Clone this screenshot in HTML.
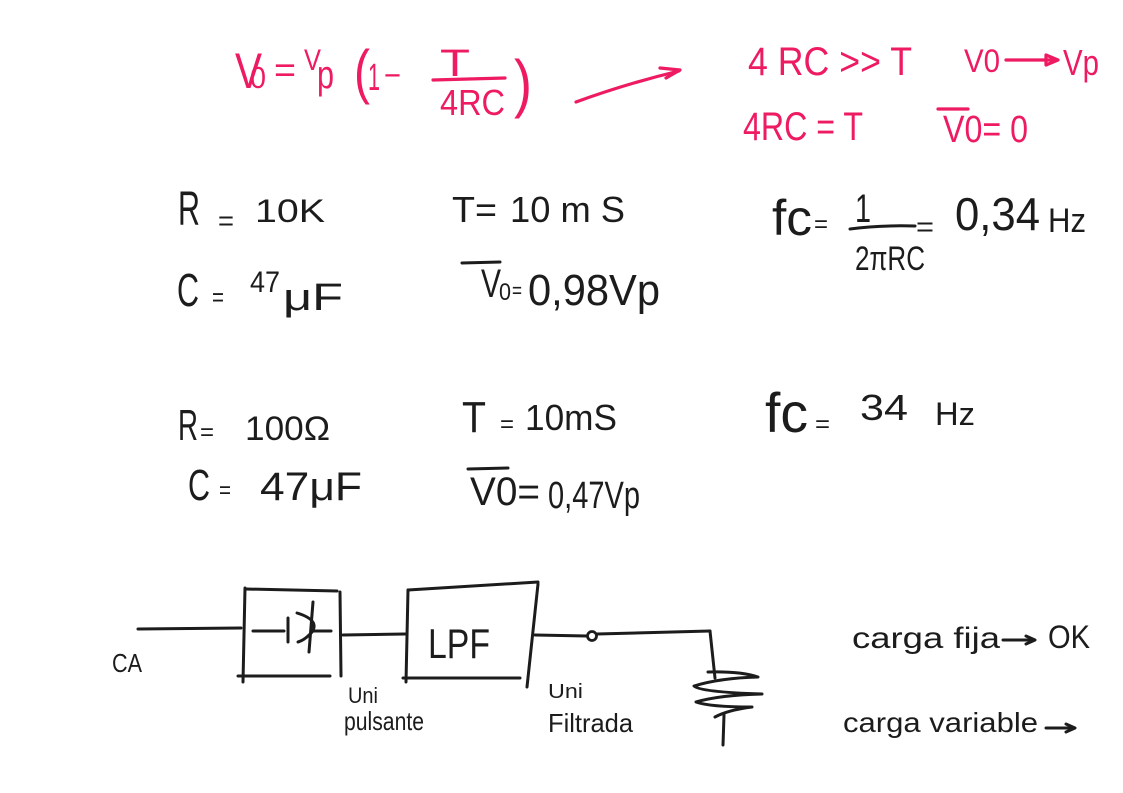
<!DOCTYPE html>
<html>
<head>
<meta charset="utf-8">
<style>
  html,body{margin:0;padding:0;background:#fff;}
  body{width:1123px;height:793px;overflow:hidden;}
  svg{display:block;}
  .p{fill:#ee1a62;font-family:"Liberation Sans",sans-serif;}
  .k{fill:#1c1c1c;font-family:"Liberation Sans",sans-serif;}
  .pl{stroke:#ee1a62;stroke-width:3.2;fill:none;stroke-linecap:round;stroke-linejoin:round;}
  .kl{stroke:#1c1c1c;stroke-width:3;fill:none;stroke-linecap:round;stroke-linejoin:round;}
</style>
</head>
<body>
<svg width="1123" height="793" viewBox="0 0 1123 793" xmlns="http://www.w3.org/2000/svg">
  <rect width="1123" height="793" fill="#fff"/>

  <!-- ===== PINK TOP FORMULA ===== -->
  <text class="p" x="235" y="88" font-size="50" textLength="27" lengthAdjust="spacingAndGlyphs">V</text>
  <text class="p" x="250" y="88" font-size="31" textLength="16" lengthAdjust="spacingAndGlyphs">0</text>
  <text class="p" x="274" y="82" font-size="36" textLength="22" lengthAdjust="spacingAndGlyphs">=</text>
  <text class="p" x="304" y="70" font-size="30" textLength="17" lengthAdjust="spacingAndGlyphs">V</text>
  <text class="p" x="317" y="88" font-size="40" textLength="17" lengthAdjust="spacingAndGlyphs">p</text>
  <text class="p" x="354" y="92" font-size="60" textLength="16" lengthAdjust="spacingAndGlyphs">(</text>
  <text class="p" x="368" y="90" font-size="38" textLength="12" lengthAdjust="spacingAndGlyphs">1</text>
  <text class="p" x="384" y="86" font-size="32" textLength="17" lengthAdjust="spacingAndGlyphs">−</text>
  <text class="p" x="440" y="76" font-size="38" textLength="30" lengthAdjust="spacingAndGlyphs">T</text>
  <path class="pl" d="M433,80 L505,78"/>
  <text class="p" x="440" y="115" font-size="36" textLength="65" lengthAdjust="spacingAndGlyphs">4RC</text>
  <text class="p" x="514" y="105" font-size="64" textLength="18" lengthAdjust="spacingAndGlyphs">)</text>
  <!-- big pink arrow -->
  <path class="pl" d="M576,102 Q625,84 679,71"/>
  <path class="pl" d="M660,68 L680,70 L666,78"/>

  <!-- right pink -->
  <text class="p" x="748" y="75" font-size="40" textLength="164" lengthAdjust="spacingAndGlyphs">4 RC &gt;&gt; T</text>
  <text class="p" x="964" y="72" font-size="32" textLength="36" lengthAdjust="spacingAndGlyphs">V0</text>
  <path class="pl" d="M1006,60 L1056,60"/>
  <path class="pl" d="M1046,55 L1058,60 L1046,65 Z" fill="#ee1a62"/>
  <text class="p" x="1063" y="75" font-size="36" textLength="36" lengthAdjust="spacingAndGlyphs">Vp</text>

  <text class="p" x="743" y="140" font-size="40" textLength="120" lengthAdjust="spacingAndGlyphs">4RC = T</text>
  <path class="pl" d="M938,109 L968,109"/>
  <text class="p" x="943" y="142" font-size="38" textLength="85" lengthAdjust="spacingAndGlyphs">V0= 0</text>

  <!-- ===== BLACK BLOCK 1 ===== -->
  <text class="k" x="178" y="225" font-size="48" textLength="22" lengthAdjust="spacingAndGlyphs">R</text>
  <text class="k" x="218" y="230" font-size="28" textLength="16" lengthAdjust="spacingAndGlyphs">=</text>
  <text class="k" x="255" y="222" font-size="32" textLength="70" lengthAdjust="spacingAndGlyphs">10K</text>

  <text class="k" x="452" y="222" font-size="36" textLength="45" lengthAdjust="spacingAndGlyphs">T=</text>
  <text class="k" x="510" y="222" font-size="36" textLength="115" lengthAdjust="spacingAndGlyphs">10 m S</text>

  <text class="k" x="177" y="306" font-size="46" textLength="22" lengthAdjust="spacingAndGlyphs">C</text>
  <text class="k" x="212" y="306" font-size="26" textLength="12" lengthAdjust="spacingAndGlyphs">=</text>
  <text class="k" x="250" y="292" font-size="30" textLength="30" lengthAdjust="spacingAndGlyphs">47</text>
  <text class="k" x="283" y="310" font-size="38" textLength="60" lengthAdjust="spacingAndGlyphs">μF</text>

  <path class="kl" d="M462,263 L500,262"/>
  <text class="k" x="481" y="297" font-size="40" textLength="20" lengthAdjust="spacingAndGlyphs">V</text>
  <text class="k" x="499" y="300" font-size="24" textLength="12" lengthAdjust="spacingAndGlyphs">0</text>
  <text class="k" x="512" y="298" font-size="22" textLength="10" lengthAdjust="spacingAndGlyphs">=</text>
  <text class="k" x="528" y="305" font-size="44" textLength="132" lengthAdjust="spacingAndGlyphs">0,98Vp</text>

  <text class="k" x="772" y="235" font-size="50" textLength="40" lengthAdjust="spacingAndGlyphs">fc</text>
  <text class="k" x="814" y="232" font-size="24" textLength="14" lengthAdjust="spacingAndGlyphs">=</text>
  <text class="k" x="855" y="222" font-size="40" textLength="16" lengthAdjust="spacingAndGlyphs">1</text>
  <path class="kl" d="M850,229 Q880,225 915,226"/>
  <text class="k" x="855" y="270" font-size="34" textLength="70" lengthAdjust="spacingAndGlyphs">2πRC</text>
  <text class="k" x="916" y="236" font-size="28" textLength="18" lengthAdjust="spacingAndGlyphs">=</text>
  <text class="k" x="955" y="230" font-size="46" textLength="85" lengthAdjust="spacingAndGlyphs">0,34</text>
  <text class="k" x="1048" y="232" font-size="34" textLength="38" lengthAdjust="spacingAndGlyphs">Hz</text>

  <!-- ===== BLACK BLOCK 2 ===== -->
  <text class="k" x="178" y="440" font-size="44" textLength="20" lengthAdjust="spacingAndGlyphs">R</text>
  <text class="k" x="200" y="440" font-size="24" textLength="14" lengthAdjust="spacingAndGlyphs">=</text>
  <text class="k" x="245" y="440" font-size="34" textLength="85" lengthAdjust="spacingAndGlyphs">100Ω</text>

  <text class="k" x="188" y="500" font-size="44" textLength="22" lengthAdjust="spacingAndGlyphs">C</text>
  <text class="k" x="219" y="498" font-size="24" textLength="12" lengthAdjust="spacingAndGlyphs">=</text>
  <text class="k" x="260" y="500" font-size="40" textLength="102" lengthAdjust="spacingAndGlyphs">47μF</text>

  <text class="k" x="462" y="432" font-size="44" textLength="24" lengthAdjust="spacingAndGlyphs">T</text>
  <text class="k" x="500" y="432" font-size="24" textLength="14" lengthAdjust="spacingAndGlyphs">=</text>
  <text class="k" x="525" y="430" font-size="36" textLength="92" lengthAdjust="spacingAndGlyphs">10mS</text>

  <path class="kl" d="M468,469 L508,468"/>
  <text class="k" x="470" y="505" font-size="40" textLength="70" lengthAdjust="spacingAndGlyphs">V0=</text>
  <text class="k" x="548" y="508" font-size="38" textLength="92" lengthAdjust="spacingAndGlyphs">0,47Vp</text>

  <text class="k" x="765" y="432" font-size="56" textLength="43" lengthAdjust="spacingAndGlyphs">fc</text>
  <text class="k" x="815" y="432" font-size="24" textLength="15" lengthAdjust="spacingAndGlyphs">=</text>
  <text class="k" x="860" y="420" font-size="36" textLength="48" lengthAdjust="spacingAndGlyphs">34</text>
  <text class="k" x="935" y="425" font-size="32" textLength="40" lengthAdjust="spacingAndGlyphs">Hz</text>

  <!-- ===== CIRCUIT ===== -->
  <!-- input wire -->
  <path class="kl" d="M138,629 L241,628"/>
  <text class="k" x="112" y="672" font-size="26" textLength="30" lengthAdjust="spacingAndGlyphs">CA</text>
  <!-- rectifier box -->
  <path class="kl" d="M245,588 L243,682"/>
  <path class="kl" d="M246,589 L337,591"/>
  <path class="kl" d="M238,676 L330,676"/>
  <path class="kl" d="M340,592 L341,676"/>
  <!-- diode -->
  <path class="kl" d="M253,631 L284,631"/>
  <path class="kl" d="M288,618 L288,642"/>
  <path class="kl" d="M297,613 Q320,620 312,632 Q305,640 298,642"/>
  <path class="kl" d="M313,602 L309,652"/>
  <path class="kl" d="M313,631 L331,631"/>
  <!-- wire to LPF -->
  <path class="kl" d="M343,635 L405,634"/>
  <!-- LPF box -->
  <path class="kl" d="M408,590 L406,682"/>
  <path class="kl" d="M408,590 L538,582"/>
  <path class="kl" d="M538,584 L527,687"/>
  <path class="kl" d="M403,678 L520,678"/>
  <text class="k" x="428" y="658" font-size="42" textLength="62" lengthAdjust="spacingAndGlyphs">LPF</text>
  <!-- output wire -->
  <path class="kl" d="M535,635 L587,636"/>
  <circle cx="592" cy="636" r="4.5" fill="none" stroke="#1c1c1c" stroke-width="2.8"/>
  <path class="kl" d="M597,634 L710,631"/>
  <!-- resistor / load -->
  <path class="kl" d="M710,631 L715,678"/>
  <path class="kl" d="M708,672 Q740,671 758,677 Q720,678 694,686 Q700,692 762,694 Q720,695 696,702 Q710,707 752,707 Q728,710 715,717"/>
  <path class="kl" d="M724,715 L723,745"/>

  <text class="k" x="348" y="703" font-size="22" textLength="30" lengthAdjust="spacingAndGlyphs">Uni</text>
  <text class="k" x="344" y="730" font-size="26" textLength="80" lengthAdjust="spacingAndGlyphs">pulsante</text>
  <text class="k" x="548" y="698" font-size="20" textLength="35" lengthAdjust="spacingAndGlyphs">Uni</text>
  <text class="k" x="548" y="732" font-size="26" textLength="85" lengthAdjust="spacingAndGlyphs">Filtrada</text>

  <!-- right notes -->
  <text class="k" x="852" y="648" font-size="30" textLength="148" lengthAdjust="spacingAndGlyphs">carga fija</text>
  <path class="kl" d="M1003,640 L1032,640"/>
  <path class="kl" d="M1026,636 L1035,640 L1026,644"/>
  <text class="k" x="1048" y="648" font-size="32" textLength="42" lengthAdjust="spacingAndGlyphs">OK</text>

  <text class="k" x="843" y="732" font-size="28" textLength="195" lengthAdjust="spacingAndGlyphs">carga variable</text>
  <path class="kl" d="M1046,728 L1074,728"/>
  <path class="kl" d="M1066,724 L1075,728 L1066,732"/>
</svg>
</body>
</html>
